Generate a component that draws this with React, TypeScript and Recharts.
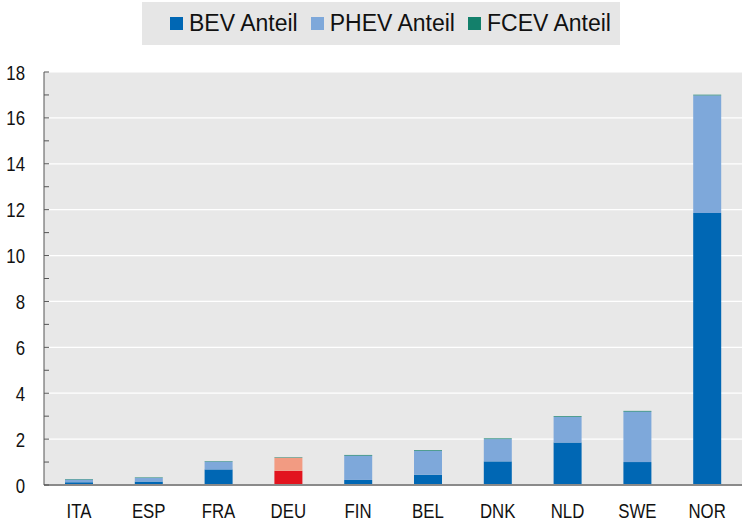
import React from "react";
import { BarChart, Bar, XAxis, YAxis, CartesianGrid, Cell } from "recharts";

const countries = ["ITA", "ESP", "FRA", "DEU", "FIN", "BEL", "DNK", "NLD", "SWE", "NOR"];
const bevShare = [0.12, 0.15, 0.68, 0.62, 0.22, 0.45, 1.03, 1.85, 1.0, 11.86];
const phevShare = [0.12, 0.16, 0.34, 0.57, 1.06, 1.04, 0.97, 1.12, 2.2, 5.12];
const fcevShare = [0.02, 0.02, 0.02, 0.02, 0.03, 0.03, 0.03, 0.03, 0.03, 0.03];
const yTicks = [0, 1, 2, 3, 4, 5, 6, 7, 8, 9, 10, 11, 12, 13, 14, 15, 16, 17, 18];
const gridValues = [2, 4, 6, 8, 10, 12, 14, 16, 18];

const data = countries.map((name, i) => ({
  name,
  bev: bevShare[i],
  phev: phevShare[i],
  fcev: fcevShare[i],
}));

const BEV = "#0067b4";
const PHEV = "#7ea8da";
const FCEV = "#13806b";
const DEU_BEV = "#e2141e";
const DEU_PHEV = "#f29b82";

const AXIS_W = 44;
const font = '"Liberation Sans", Arial, sans-serif';

// schmale Schrift nachbilden (Arial Narrow ist nicht installiert)
const NarrowText = ({ x, y, anchor, children }: any) => (
  <text
    transform={`translate(${x},${y}) scale(0.8,1)`}
    textAnchor={anchor}
    fontSize={21}
    fill="#111"
    fontFamily={font}
  >
    {children}
  </text>
);

const YTick = (props: any) => {
  const { y, payload } = props;
  const major = payload.value % 2 === 0;
  return (
    <g>
      <line x1={AXIS_W} x2={AXIS_W + 5} y1={y} y2={y} stroke="#555" strokeWidth={1} />
      {major && (
        <NarrowText x={AXIS_W - 19} y={y + 7.5} anchor="end">
          {payload.value}
        </NarrowText>
      )}
    </g>
  );
};

const XTick = (props: any) => {
  const { x, y, payload } = props;
  return (
    <NarrowText x={x} y={y + 25} anchor="middle">
      {payload.value}
    </NarrowText>
  );
};

const legendItems = [
  { label: "BEV Anteil", color: BEV },
  { label: "PHEV Anteil", color: PHEV },
  { label: "FCEV Anteil", color: FCEV },
];

const LegendBox = () => (
  <div
    style={{
      position: "absolute",
      top: 2,
      left: 142,
      width: 478,
      height: 43,
      background: "#e6e6e6",
      display: "flex",
      alignItems: "center",
      paddingLeft: 28,
      boxSizing: "border-box",
      fontFamily: font,
      fontSize: 23,
      color: "#111",
      whiteSpace: "nowrap",
    }}
  >
    {legendItems.map((it) => (
      <span key={it.label} style={{ display: "flex", alignItems: "center", marginRight: 13 }}>
        <span style={{ width: 13, height: 13, background: it.color, marginRight: 6 }} />
        {it.label}
      </span>
    ))}
  </div>
);

export default function App() {
  return (
    <div style={{ position: "absolute", left: 0, top: 0, width: 742, height: 522, background: "#fff" }}>
      <BarChart width={742} height={522} data={data} margin={{ top: 72, right: 0, left: 0, bottom: 0 }} barSize={28}>
        <CartesianGrid vertical={false} horizontalValues={gridValues} stroke="#fff" strokeWidth={1.2} fill="#e8e8e8" />
        <XAxis
          dataKey="name"
          height={37}
          tickLine={false}
          axisLine={{ stroke: "#8a8a8a", strokeWidth: 2 }}
          tick={<XTick />}
          interval={0}
        />
        <YAxis
          width={AXIS_W}
          domain={[0, 18]}
          ticks={yTicks}
          interval={0}
          tickLine={false}
          axisLine={{ stroke: "#555", strokeWidth: 1 }}
          tick={<YTick />}
        />
        <Bar dataKey="bev" stackId="a" name="BEV Anteil" fill={BEV} isAnimationActive={false}>
          {data.map((d) => (
            <Cell key={d.name} fill={d.name === "DEU" ? DEU_BEV : BEV} />
          ))}
        </Bar>
        <Bar dataKey="phev" stackId="a" name="PHEV Anteil" fill={PHEV} isAnimationActive={false}>
          {data.map((d) => (
            <Cell key={d.name} fill={d.name === "DEU" ? DEU_PHEV : PHEV} />
          ))}
        </Bar>
        <Bar dataKey="fcev" stackId="a" name="FCEV Anteil" fill={FCEV} isAnimationActive={false} />
      </BarChart>
      <LegendBox />
    </div>
  );
}
